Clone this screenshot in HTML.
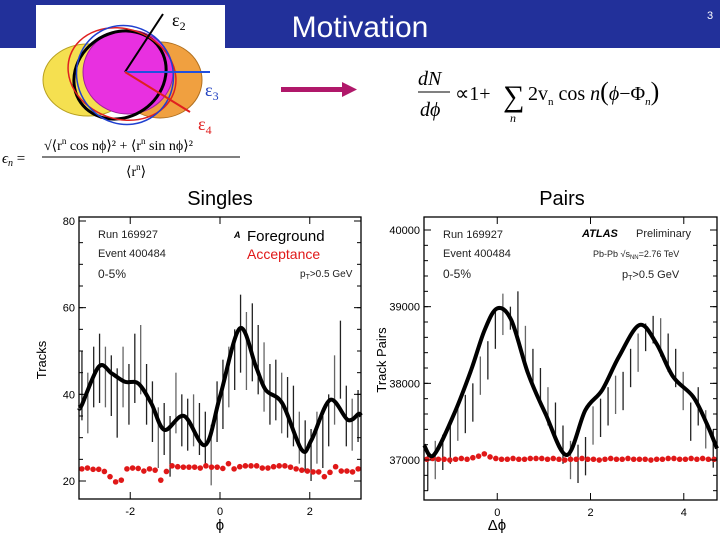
<!DOCTYPE html>
<html><head><meta charset="utf-8"><style>
body{margin:0;width:720px;height:540px;overflow:hidden;background:#fff;font-family:"Liberation Sans",sans-serif}
svg{position:absolute;left:0;top:0}
</style></head><body>
<svg id="s" width="720" height="540">
<rect x="0" y="0" width="720" height="48" fill="#22309a"/>
<text x="360" y="37" font-size="30" fill="#fff" text-anchor="middle">Motivation</text>
<text x="710" y="19" font-size="11" fill="#fff" text-anchor="middle">3</text>
<g>
<rect x="36" y="5" width="189" height="127" fill="#fff"/>
<ellipse cx="88" cy="80" rx="45" ry="36" fill="#f5e050" stroke="#b8a020" stroke-width="1"/>
<ellipse cx="160" cy="80" rx="42" ry="38" fill="#f0a040" stroke="#b07020" stroke-width="1"/>
<ellipse cx="128" cy="72" rx="45" ry="42" fill="#e830e0" stroke="#a020a0" stroke-width="1"/>
<ellipse cx="120" cy="75" rx="48" ry="42" fill="none" stroke="#000" stroke-width="3" transform="rotate(-35 120 75)"/>
<ellipse cx="122" cy="74" rx="55" ry="45" fill="none" stroke="#e02020" stroke-width="1.5" transform="rotate(20 122 74)"/>
<ellipse cx="125" cy="75" rx="50" ry="48" fill="none" stroke="#2040d0" stroke-width="1.5" transform="rotate(60 125 75)"/>
<line x1="125" y1="72" x2="163" y2="14" stroke="#000" stroke-width="2"/>
<line x1="125" y1="72" x2="210" y2="72" stroke="#2050e0" stroke-width="2"/>
<line x1="125" y1="72" x2="190" y2="112" stroke="#e02020" stroke-width="2"/>
<text x="172" y="26" font-size="18" font-family="Liberation Serif,serif">ε<tspan font-size="12" dy="4">2</tspan></text>
<text x="205" y="96" font-size="18" fill="#2040c0" font-family="Liberation Serif,serif">ε<tspan font-size="12" dy="4">3</tspan></text>
<text x="198" y="130" font-size="18" fill="#e02020" font-family="Liberation Serif,serif">ε<tspan font-size="12" dy="4">4</tspan></text>
</g>
<g font-family="Liberation Serif,serif">
<text x="2" y="163" font-size="15" font-style="italic">ϵ<tspan font-size="10" dy="3">n</tspan><tspan dy="-3" font-style="normal"> =</tspan></text>
<text x="44" y="150" font-size="14">√⟨r<tspan font-size="9" dy="-6">n</tspan><tspan dy="6"> cos nϕ⟩² + ⟨r</tspan><tspan font-size="9" dy="-6">n</tspan><tspan dy="6"> sin nϕ⟩²</tspan></text>
<line x1="42" y1="157" x2="240" y2="157" stroke="#000" stroke-width="1"/>
<text x="126" y="176" font-size="14">⟨r<tspan font-size="9" dy="-6">n</tspan><tspan dy="6">⟩</tspan></text>
</g>
<g>
<rect x="281" y="87" width="64" height="5" fill="#b0186a"/>
<polygon points="342,82 357,89.5 342,97" fill="#b0186a"/>
</g>
<g font-family="Liberation Serif,serif">
<text x="418" y="85" font-size="20" font-style="italic">dN</text>
<line x1="418" y1="92" x2="450" y2="92" stroke="#000" stroke-width="1"/>
<text x="420" y="116" font-size="20" font-style="italic">dϕ</text>
<text x="455" y="100" font-size="20">∝1+</text>
<text x="503" y="106" font-size="30">∑</text>
<text x="510" y="122" font-size="12" font-style="italic">n</text>
<text x="528" y="100" font-size="20">2v<tspan font-size="11" dy="5">n</tspan><tspan dy="-5"> cos </tspan><tspan font-style="italic">n</tspan><tspan font-size="26">(</tspan><tspan font-style="italic">ϕ</tspan>−Φ<tspan font-size="11" dy="5" font-style="italic">n</tspan><tspan font-size="26" dy="-5">)</tspan></text>
</g>
<text x="220" y="205" font-size="20" text-anchor="middle">Singles</text>
<text x="562" y="205" font-size="20" text-anchor="middle">Pairs</text>
<g id="L"></g>
<g id="R"></g>
</svg>
<script>
// ---- Singles chart data ----
const lCurveX=[-3.14,-3.08,-2.70,-2.41,-2.12,-1.82,-1.53,-1.24,-0.80,-0.33,0,0.44,0.80,1.02,1.39,1.82,2.04,2.45,2.85,3.09,3.14];
const lCurveY=[37,37.5,46.4,44.8,42.9,42.5,37.9,31.8,35.0,28.3,39.5,55.2,46.4,41,37.9,27.2,29.5,38.7,34.1,35.5,35];
const lBarY=[42,38,44,46,44,42,38,44,40,46,48,40,36,30,32,28,38,34,33,34,32,30,26,36,40,44,48,54,50,52,48,44,40,41,38,37,35,30,28,26,30,29,34,41,48,35,33,35];
const lBarErr=[8,7,7,8,7,7,8,7,7,8,8,7,7,7,6,7,7,6,6,6,6,6,7,7,8,7,7,9,9,9,8,8,7,7,7,7,7,6,6,6,6,6,6,8,9,7,6,6];
const lAcc=[22.8,23,22.7,22.7,22.2,21,19.8,20.2,22.8,23,22.9,22.3,22.8,22.5,20.2,22.2,23.5,23.3,23.2,23.2,23.2,23,23.5,23.2,23.2,22.9,24,22.8,23.3,23.5,23.5,23.5,23,23,23.3,23.5,23.5,23.2,22.8,22.5,22.3,22.1,22.1,21,22,23.3,22.3,22.3,22.1,22.8];
const lYTicks=[20,40,60,80];
const lXTicks=[-2,0,2];
// ---- Pairs chart data ----
const rCurveX=[-1.571,-1.36,-0.92,-0.56,-0.27,0,0.30,0.66,1.03,1.49,1.89,2.25,2.61,3.05,3.41,3.77,4.20,4.49,4.712];
const rCurveY=[37196,37065,37609,38174,38696,38978,38826,38130,37609,37065,37652,37913,38348,38761,38522,38087,37826,37478,37150];
const rBarY=[36850,37000,37100,37200,37500,37600,37750,38100,38300,38700,38900,38850,38900,38500,38200,37950,37700,37500,37200,37000,36950,37050,37450,37550,37700,37850,37900,38200,38400,38600,38700,38600,38400,38200,37900,37500,37700,37400,37150];
const rBarErr=[250,250,230,250,250,250,250,250,250,250,270,150,300,250,250,250,250,250,250,250,250,250,250,250,250,250,250,250,250,180,180,250,250,250,250,250,250,250,250];
const rAcc=[37010,37020,37010,37010,37000,37010,37020,37010,37030,37050,37080,37040,37020,37010,37010,37020,37010,37010,37020,37020,37020,37010,37020,37010,37000,37010,37010,37020,37010,37010,37000,37010,37020,37010,37010,37020,37010,37010,37010,37000,37010,37010,37020,37020,37010,37010,37020,37010,37020,37010,37010];
const rYTicks=[37000,38000,39000,40000];
const rXTicks=[0,2,4];

const NS="http://www.w3.org/2000/svg";
function mk(p,t,a){const e=document.createElementNS(NS,t);for(const k in a)e.setAttribute(k,a[k]);p.appendChild(e);return e;}
function smooth(pts){let d="M"+pts[0][0]+","+pts[0][1];for(let i=0;i<pts.length-1;i++){const p0=pts[i-1]||pts[i],p1=pts[i],p2=pts[i+1],p3=pts[i+2]||p2;d+=" C"+(p1[0]+(p2[0]-p0[0])/6)+","+(p1[1]+(p2[1]-p0[1])/6)+" "+(p2[0]-(p3[0]-p1[0])/6)+","+(p2[1]-(p3[1]-p1[1])/6)+" "+p2[0]+","+p2[1];}return d;}

function chart(g,o){
  const sx=v=>o.x0+(v-o.xmin)/(o.xmax-o.xmin)*(o.x1-o.x0);
  const sy=v=>o.y1-(v-o.ymin)/(o.ymax-o.ymin)*(o.y1-o.y0);
  const n=o.barY.length, bw=(o.xmax-o.xmin)/n;
  o.barY.forEach((v,i)=>{const x=sx(o.xmin+bw*(i+0.5));
    const b=mk(g,"line",{x1:x,x2:x,y1:Math.max(o.y0,sy(v+o.barErr[i])),y2:Math.min(o.y1,sy(v-o.barErr[i])),stroke:i%3==1?"#666":"#222","stroke-width":1.3});
    
    });
  const m=o.acc.length, aw=(o.xmax-o.xmin)/m;
  o.acc.forEach((v,i)=>{const c=mk(g,"circle",{cx:sx(o.xmin+aw*(i+0.5)),cy:sy(v),r:2.8,fill:"#e01818"});
    
    });
  const path=mk(g,"path",{d:smooth(o.cx.map((v,i)=>[sx(v),sy(o.cy[i])])),fill:"none",stroke:"#000","stroke-width":4});
  
  
  const f=mk(g,"rect",{x:o.x0,y:o.y0,width:o.x1-o.x0,height:o.y1-o.y0,fill:"none",stroke:"#000","stroke-width":1.3});
  
  
  o.yt.forEach(v=>{const y=sy(v);mk(g,"line",{x1:o.x0,x2:o.x0+7,y1:y,y2:y,stroke:"#000"});mk(g,"line",{x1:o.x1,x2:o.x1-7,y1:y,y2:y,stroke:"#000"});
    const t=mk(g,"text",{x:o.x0-4,y:y+4,"font-size":o.tf,"text-anchor":"end"});t.textContent=v;
    
    });
  o.xt.forEach(v=>{const x=sx(v);mk(g,"line",{x1:x,x2:x,y1:o.y1,y2:o.y1-7,stroke:"#000"});mk(g,"line",{x1:x,x2:x,y1:o.y0,y2:o.y0+7,stroke:"#000"});
    const t=mk(g,"text",{x:x,y:o.y1+16,"font-size":11,"text-anchor":"middle"});t.textContent=v;
    
    });
  const s0=Math.ceil(o.ymin/o.ystep)*o.ystep;
  for(let v=s0;v<=o.ymax;v+=o.ystep){const y=sy(v);mk(g,"line",{x1:o.x0,x2:o.x0+4,y1:y,y2:y,stroke:"#000"});mk(g,"line",{x1:o.x1,x2:o.x1-4,y1:y,y2:y,stroke:"#000"});}
}
const L=document.getElementById("L"), R=document.getElementById("R");
chart(L,{x0:79,x1:361,y0:217,y1:499,xmin:-Math.PI,xmax:Math.PI,ymin:15.85,ymax:80.92,ystep:5,
  barY:lBarY,barErr:lBarErr,acc:lAcc,cx:lCurveX,cy:lCurveY,yt:lYTicks,xt:lXTicks,tf:11});
chart(R,{x0:424,x1:717,y0:217,y1:500,xmin:-Math.PI/2,xmax:1.5*Math.PI,ymin:37000-40/0.0767,ymax:40000+13/0.0767,ystep:200,
  barY:rBarY,barErr:rBarErr,acc:rAcc,cx:rCurveX,cy:rCurveY,yt:rYTicks,xt:rXTicks,tf:11});
</script>
<svg width="720" height="540" style="pointer-events:none">
<text x="46" y="360" font-size="13" transform="rotate(-90 46 360)" text-anchor="middle">Tracks</text>
<text x="220" y="530" font-size="15" text-anchor="middle">ϕ</text>
<text x="98" y="238" font-size="11" fill="#222">Run 169927</text>
<text x="98" y="257" font-size="11" fill="#222">Event 400484</text>
<text x="98" y="278" font-size="12" fill="#222">0-5%</text>
<text x="234" y="238" font-size="9" font-weight="bold" font-style="italic">A</text>
<text x="247" y="241" font-size="15">Foreground</text>
<text x="247" y="259" font-size="14" fill="#e01818">Acceptance</text>
<text x="300" y="277" font-size="10" fill="#222">p<tspan font-size="7" dy="2">T</tspan><tspan dy="-2">&gt;0.5 GeV</tspan></text>
<text x="386" y="360" font-size="13" transform="rotate(-90 386 360)" text-anchor="middle">Track Pairs</text>
<text x="497" y="530" font-size="15" text-anchor="middle">Δϕ</text>
<text x="443" y="238" font-size="11" fill="#222">Run 169927</text>
<text x="443" y="257" font-size="11" fill="#222">Event 400484</text>
<text x="443" y="278" font-size="12" fill="#222">0-5%</text>
<text x="582" y="237" font-size="11" font-weight="bold" font-style="italic">ATLAS</text>
<text x="636" y="237" font-size="11" fill="#222">Preliminary</text>
<text x="593" y="257" font-size="9" fill="#222">Pb-Pb √s<tspan font-size="6" dy="2">NN</tspan><tspan dy="-2">=2.76 TeV</tspan></text>
<text x="622" y="278" font-size="11" fill="#222">p<tspan font-size="7" dy="2">T</tspan><tspan dy="-2">&gt;0.5 GeV</tspan></text>
</svg>
</body></html>
